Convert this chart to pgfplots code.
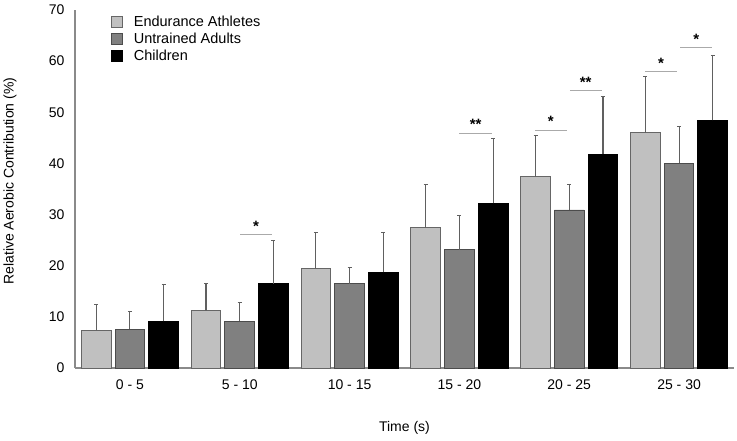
\documentclass[border=0pt]{standalone}
\usepackage{pgfplots}
\pgfplotsset{compat=1.18}
\usepackage{fontspec}
\setmainfont{Liberation Sans}
\definecolor{cEA}{HTML}{C0C0C0}
\definecolor{cUA}{HTML}{808080}
\definecolor{axgray}{HTML}{8A8A8A}
\definecolor{errgray}{HTML}{606060}
\definecolor{siggray}{HTML}{AAAAAA}
\begin{document}
\begin{tikzpicture}
\useasboundingbox (-75pt,-73pt) rectangle (662pt,368pt);
\begin{axis}[
  at={(0pt,0pt)}, anchor=south west,
  scale only axis, width=659pt, height=358pt,
  xmin=-0.5, xmax=5.5, ymin=0, ymax=70,
  ybar=4pt, bar width=29.7pt,
  axis x line*=bottom, axis y line*=left,
  axis line style={axgray, line width=1.2pt, -},
  major tick length=0pt,
  xtick={0,1,2,3,4,5},
  xticklabels={0 - 5, 5 - 10, 10 - 15, 15 - 20, 20 - 25, 25 - 30},
  ytick={0,10,...,70},
  /pgf/number format/assume math mode=true,
  tick label style={font=\fontsize{14}{16}\selectfont},
  xticklabel style={yshift=-8pt},
  yticklabel style={xshift=-7pt},
  xlabel={Time (s)}, ylabel={Relative Aerobic Contribution (\%)},
  every axis x label/.style={at={(axis description cs:0.5,-0.1676)},anchor=center,font=\fontsize{14}{16}\selectfont},
  every axis y label/.style={at={(axis description cs:-0.0986,0.522)},rotate=90,anchor=center,font=\fontsize{14}{16}\selectfont},
  legend style={at={(axis description cs:0.055,0.99)}, anchor=north west, draw=none, fill=none,
    font=\fontsize{14.5}{17}\selectfont, row sep=1.3pt, inner sep=0pt},
  legend cell align=left,
  legend image code/.code={\draw[#1,line width=0.8pt] (0pt,-5.5pt) rectangle (11pt,5.5pt); \path[draw=none,fill=none] (0pt,0pt) rectangle (20pt,0pt);},
  error bars/y dir=plus, error bars/y explicit,
  error bars/error bar style={errgray, line width=1.1pt},
  error bars/error mark options={errgray, line width=1pt, mark size=2pt, rotate=90},
  clip=false,
]
\addplot[fill=cEA, draw=black!60, line width=0.9pt] coordinates {
 (0,7.4) +- (0,5.0) (1,11.2) +- (0,5.3) (2,19.4) +- (0,7.1)
 (3,27.4) +- (0,8.4) (4,37.4) +- (0,8.0) (5,46.0) +- (0,11.0)};
\addplot[fill=cUA, draw=black!70, line width=0.9pt] coordinates {
 (0,7.6) +- (0,3.4) (1,9.1) +- (0,3.7) (2,16.5) +- (0,3.1)
 (3,23.1) +- (0,6.7) (4,30.9) +- (0,5.0) (5,40.0) +- (0,7.2)};
\addplot[fill=black, draw=black, line width=0.9pt] coordinates {
 (0,9.1) +- (0,7.3) (1,16.5) +- (0,8.5) (2,18.7) +- (0,7.8)
 (3,32.2) +- (0,12.6) (4,41.8) +- (0,11.3) (5,48.4) +- (0,12.7)};
\legend{Endurance Athletes, Untrained Adults, Children}
% significance lines
\addplot[sharp plot, siggray, line width=1.2pt, forget plot, no markers, bar shift=0pt] coordinates {(1.003,26.1) (1.293,26.1)};
\addplot[sharp plot, siggray, line width=1.2pt, forget plot, no markers, bar shift=0pt] coordinates {(3.0,45.9) (3.297,45.9)};
\addplot[sharp plot, siggray, line width=1.2pt, forget plot, no markers, bar shift=0pt] coordinates {(3.688,46.5) (3.979,46.5)};
\addplot[sharp plot, siggray, line width=1.2pt, forget plot, no markers, bar shift=0pt] coordinates {(4.006,54.2) (4.294,54.2)};
\addplot[sharp plot, siggray, line width=1.2pt, forget plot, no markers, bar shift=0pt] coordinates {(4.691,57.9) (4.982,57.9)};
\addplot[sharp plot, siggray, line width=1.2pt, forget plot, no markers, bar shift=0pt] coordinates {(5.012,62.6) (5.3,62.6)};
\node[anchor=base, font=\fontsize{15}{17}\selectfont\bfseries] at (axis cs:1.148,26.75) {*};
\node[anchor=base, font=\fontsize{15}{17}\selectfont\bfseries] at (axis cs:3.148,46.55) {**};
\node[anchor=base, font=\fontsize{15}{17}\selectfont\bfseries] at (axis cs:3.833,47.15) {*};
\node[anchor=base, font=\fontsize{15}{17}\selectfont\bfseries] at (axis cs:4.150,54.85) {**};
\node[anchor=base, font=\fontsize{15}{17}\selectfont\bfseries] at (axis cs:4.836,58.55) {*};
\node[anchor=base, font=\fontsize{15}{17}\selectfont\bfseries] at (axis cs:5.156,63.25) {*};
\end{axis}
\end{tikzpicture}
\end{document}
